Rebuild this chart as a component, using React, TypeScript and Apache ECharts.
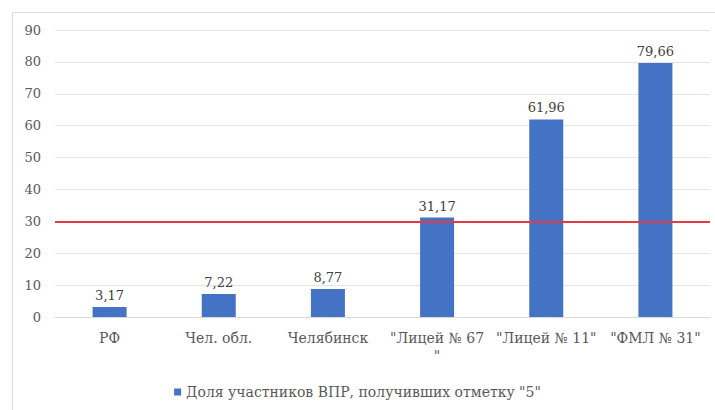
import React, { useEffect, useRef } from "react";
import * as echarts from "echarts";

const categories = ['РФ', 'Чел. обл.', 'Челябинск', '"Лицей № 67"', '"Лицей № 11"', '"ФМЛ № 31"'];
const values = [3.17, 7.22, 8.77, 31.17, 61.96, 79.66];
const seriesName = 'Доля участников ВПР, получивших отметку "5"';
const thresholdValue = 30;
const yTicks = { min: 0, max: 90, interval: 10 };

export default function App() {
  const ref = useRef<HTMLDivElement>(null);
  useEffect(() => {
    if (!ref.current) return;
    const chart = echarts.init(ref.current, null, { renderer: "svg" });
    const font = "DejaVu Serif";
    chart.setOption({
      animation: false,
      backgroundColor: "#ffffff",
      textStyle: { fontFamily: font },
      graphic: [
        {
          type: "rect",
          shape: { x: 12.5, y: 12.5, width: 720, height: 420 },
          style: { fill: "none", stroke: "#d9d9d9", lineWidth: 1 },
          silent: true,
        },
      ],
      grid: { left: 55, right: 5, top: 30, bottom: 93 },
      legend: {
        bottom: 6,
        left: "center",
        icon: "rect",
        itemWidth: 7,
        itemHeight: 7,
        itemGap: 6,
        textStyle: { fontFamily: font, fontSize: 14, color: "#595959" },
        data: [seriesName],
      },
      xAxis: {
        type: "category",
        data: categories,
        axisLine: { show: true, lineStyle: { color: "#d9d9d9" } },
        axisTick: { show: false },
        axisLabel: {
          fontFamily: font,
          fontSize: 14,
          color: "#595959",
          margin: 12,
          interval: 0,
          lineHeight: 18,
          formatter: (v: string) => (v === '"Лицей № 67"' ? '"Лицей № 67\n"' : v),
        },
      },
      yAxis: {
        type: "value",
        min: yTicks.min,
        max: yTicks.max,
        interval: yTicks.interval,
        axisLine: { show: false },
        axisTick: { show: false },
        splitLine: { lineStyle: { color: "#e4e4e4", width: 1 } },
        axisLabel: { fontFamily: font, fontSize: 13, color: "#595959", margin: 14 },
      },
      series: [
        {
          name: seriesName,
          type: "bar",
          data: values,
          barWidth: 34,
          itemStyle: { color: "#4472c4" },
          label: {
            show: true,
            position: "top",
            distance: 5,
            fontFamily: font,
            fontSize: 13,
            color: "#404040",
            formatter: (p: any) => String(p.value).replace(".", ","),
          },
          markLine: {
            silent: true,
            symbol: "none",
            label: { show: false },
            lineStyle: { color: "#e23b45", width: 2, type: "solid" },
            data: [{ yAxis: thresholdValue }],
          },
        },
      ],
    });
    return () => chart.dispose();
  }, []);
  return (
    <div
      ref={ref}
      style={{ position: "fixed", left: 0, top: 0, width: 715, height: 410 }}
    />
  );
}
